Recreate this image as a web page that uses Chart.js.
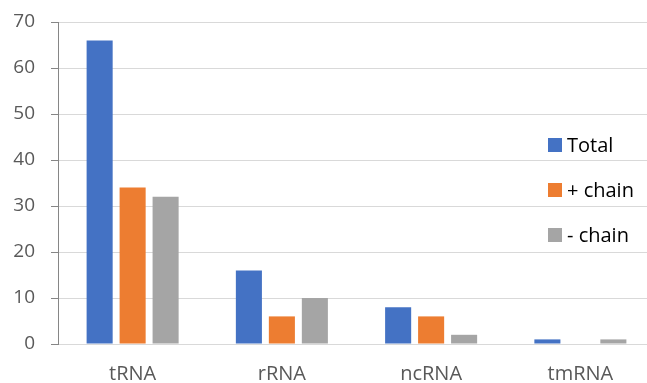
<!DOCTYPE html>
<html>
<head>
<meta charset="utf-8">
<script src="https://cdn.jsdelivr.net/npm/chart.js@4.4.1/dist/chart.umd.min.js"></script>
<style>
  html, body { margin: 0; padding: 0; background: #ffffff; overflow: hidden; }
  #wrap { width: 647px; height: 383px; position: relative; overflow: hidden; }
  #c { position: absolute; left: 0; top: 0; }
</style>
</head>
<body>
<div id="wrap"><canvas id="c" width="655" height="383"></canvas></div>
<script>
// RNA gene counts per class
const categories = ['tRNA', 'rRNA', 'ncRNA', 'tmRNA'];
const totalCounts = [66, 16, 8, 1];
const plusChain = [34, 6, 6, 0];
const minusChain = [32, 10, 2, 1];
const yTicks = [0, 10, 20, 30, 40, 50, 60, 70];

const FONT = '"Open Sans", "Noto Sans", sans-serif';

// Legend drawn inside the plot area, stacked vertically on the right
const innerLegend = {
  id: 'innerLegend',
  afterDraw(chart) {
    const ctx = chart.ctx;
    const x = 548, y0 = 145, step = 45, box = 14;
    ctx.save();
    ctx.font = '20px ' + FONT;
    ctx.textBaseline = 'middle';
    ctx.textAlign = 'left';
    chart.data.datasets.forEach((ds, i) => {
      const y = y0 + i * step;
      ctx.fillStyle = ds.backgroundColor;
      ctx.fillRect(x, y - box / 2, box, box);
      ctx.fillStyle = '#000000';
      ctx.fillText(ds.label, x + 19, y + 1);
    });
    ctx.restore();
  }
};

new Chart(document.getElementById('c'), {
  type: 'bar',
  data: {
    labels: categories,
    datasets: [
      { label: 'Total', data: totalCounts, backgroundColor: '#4472C4' },
      { label: '+ chain', data: plusChain, backgroundColor: '#ED7D31' },
      { label: '- chain', data: minusChain, backgroundColor: '#A5A5A5' }
    ]
  },
  options: {
    responsive: false,
    animation: false,
    devicePixelRatio: 1,
    layout: { padding: { top: 22, right: 0, left: 0, bottom: 0 } },
    datasets: { bar: { categoryPercentage: 0.663, barPercentage: 0.79 } },
    plugins: {
      legend: { display: false },
      tooltip: { enabled: false }
    },
    scales: {
      x: {
        grid: { display: false, drawTicks: false },
        border: { display: true, color: '#D9D9D9', width: 1 },
        ticks: { color: '#595959', font: { family: FONT, size: 20 }, padding: 18 },
        afterFit(scale) { scale.height = 39; }
      },
      y: {
        min: 0,
        max: 70,
        afterBuildTicks(scale) { scale.ticks = yTicks.map(v => ({ value: v })); },
        grid: { color: '#D9D9D9', tickColor: '#868686', tickLength: 7, lineWidth: 1 },
        border: { display: true, color: '#868686', width: 1 },
        ticks: { color: '#595959', font: { family: FONT, size: 19 }, padding: 16 },
        afterFit(scale) {
          scale.width = 58;
          scale.paddingTop = 0;
          scale.paddingBottom = 0;
        }
      }
    }
  },
  plugins: [innerLegend]
});
</script>
</body>
</html>
